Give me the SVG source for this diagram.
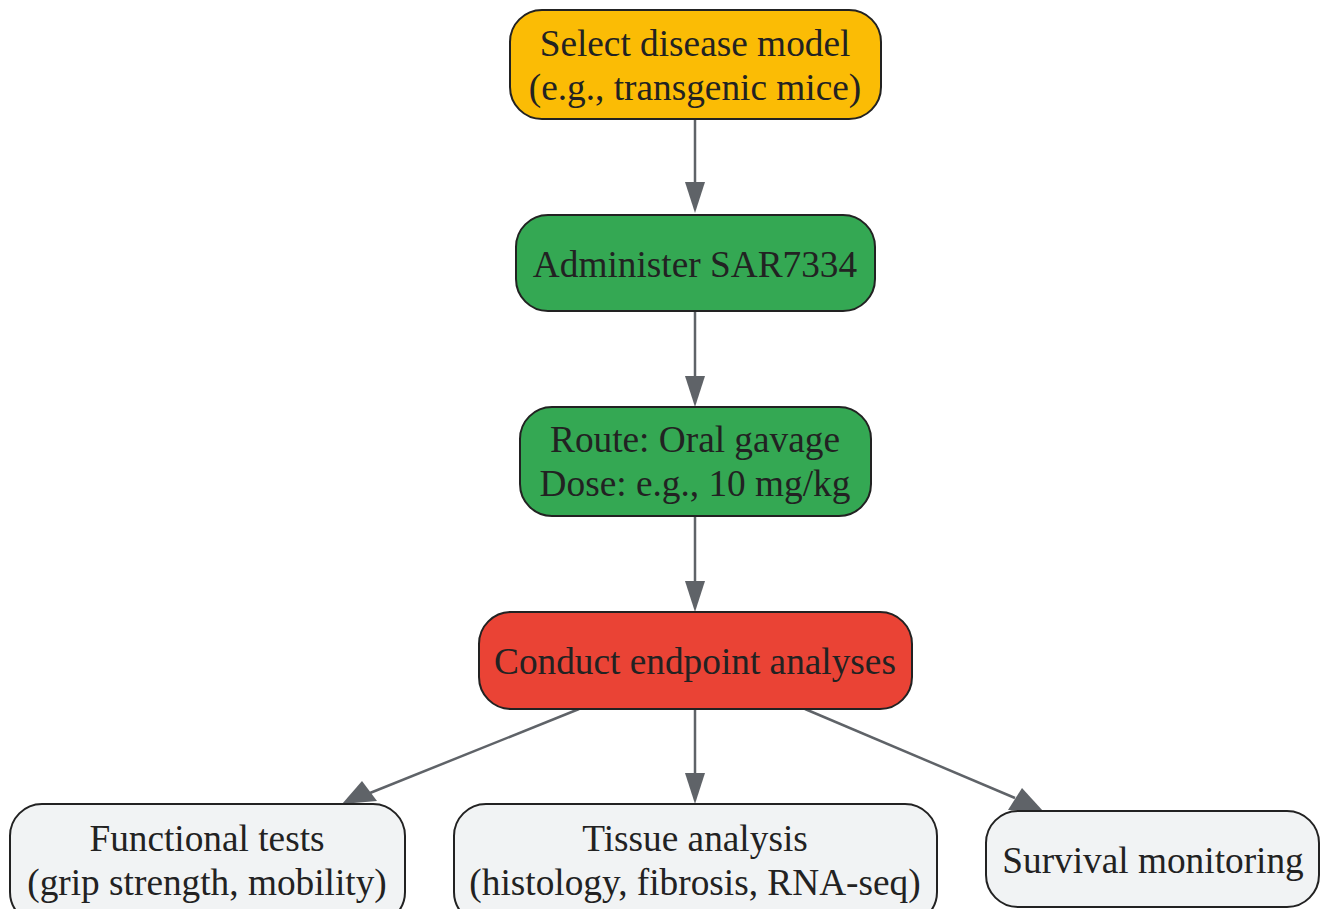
<svg xmlns="http://www.w3.org/2000/svg" width="1320" height="909" viewBox="0 0 1320 909">
<defs>
<style>
.n{stroke:#222;stroke-width:2}
.t{font-family:"Liberation Serif","Times New Roman",serif;font-size:37.3px;fill:#222;text-anchor:middle}
.e{stroke:#5f6368;stroke-width:2.5;fill:none}
.h{fill:#5f6368}
</style>
</defs>
<rect width="1320" height="909" fill="#fff"/>
<g id="connectors">
<line class="e" x1="695" y1="119" x2="695" y2="182"/>
<path class="h" d="M685,182 L705,182 L695,213 Z"/>
<line class="e" x1="695" y1="311" x2="695" y2="376"/>
<path class="h" d="M685,376 L705,376 L695,407 Z"/>
<line class="e" x1="695" y1="516" x2="695" y2="581"/>
<path class="h" d="M685,581 L705,581 L695,612 Z"/>
<line class="e" x1="695" y1="709" x2="695" y2="773"/>
<path class="h" d="M685,773 L705,773 L695,804 Z"/>
<line class="e" x1="579" y1="709" x2="370" y2="793"/>
<path class="h" d="M362,781 L377,801 L342,804 Z"/>
<line class="e" x1="805" y1="709" x2="1015" y2="798"/>
<path class="h" d="M1008,810 L1022,788 L1043,811 Z"/>
</g>
<g id="n1"><rect class="n" x="510" y="10" width="371" height="109" rx="32" fill="#FBBC05"/>
<text class="t" x="695" y="56">Select disease model</text><text class="t" x="695" y="100">(e.g., transgenic mice)</text></g>
<g id="n2"><rect class="n" x="516" y="215" width="359" height="96" rx="32" fill="#34A853"/>
<text class="t" x="695" y="277">Administer SAR7334</text></g>
<g id="n3"><rect class="n" x="520" y="407" width="351" height="109" rx="32" fill="#34A853"/>
<text class="t" x="695" y="452">Route: Oral gavage</text><text class="t" x="695" y="496">Dose: e.g., 10 mg/kg</text></g>
<g id="n4"><rect class="n" x="479" y="612" width="433" height="97" rx="32" fill="#EA4335"/>
<text class="t" x="695" y="674">Conduct endpoint analyses</text></g>
<g id="n5"><rect class="n" x="10" y="804" width="395" height="120" rx="32" fill="#F1F3F4"/>
<text class="t" x="207" y="851">Functional tests</text><text class="t" x="207" y="895">(grip strength, mobility)</text></g>
<g id="n6"><rect class="n" x="454" y="804" width="483" height="120" rx="32" fill="#F1F3F4"/>
<text class="t" x="695" y="851">Tissue analysis</text><text class="t" x="695" y="895">(histology, fibrosis, RNA-seq)</text></g>
<g id="n7"><rect class="n" x="986" y="811" width="333" height="96" rx="32" fill="#F1F3F4"/>
<text class="t" x="1153" y="873">Survival monitoring</text></g>
</svg>
